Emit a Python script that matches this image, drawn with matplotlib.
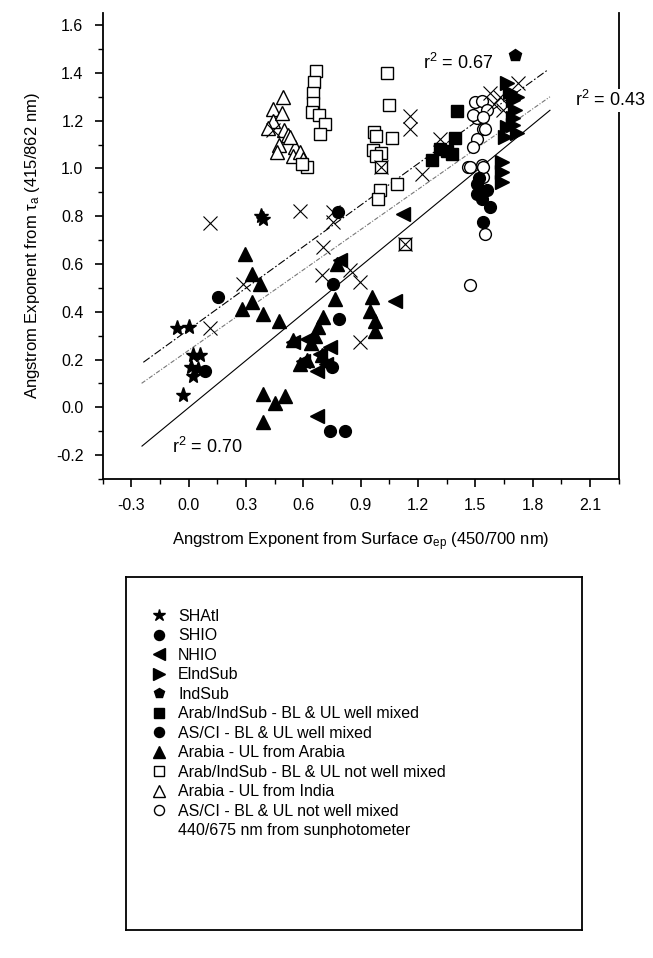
import matplotlib
matplotlib.use("Agg")
import matplotlib.pyplot as plt
from matplotlib.lines import Line2D
import numpy as np

plt.rcParams['font.family'] = ['Liberation Sans', 'DejaVu Sans']
plt.rcParams['mathtext.fontset'] = 'custom'
plt.rcParams['mathtext.rm'] = 'Liberation Sans'
plt.rcParams['mathtext.it'] = 'Liberation Sans:italic'

# ---------------- data ----------------
shatl_x = [-0.06, 0.0, 0.02, 0.06, 0.01, 0.02, 0.05, -0.03, 0.39, 0.38]
shatl_y = [0.33, 0.335, 0.22, 0.22, 0.17, 0.13, 0.16, 0.05, 0.79, 0.80]

shio_x = [0.155, 0.085, 0.783, 0.757, 0.788, 0.748, 0.74, 0.818]
shio_y = [0.46, 0.153, 0.817, 0.517, 0.37, 0.167, -0.098, -0.098]

nhio_x = [1.123, 0.79, 1.08, 0.547, 0.617, 0.74, 0.687, 0.60, 0.67, 0.67, 0.72]
nhio_y = [0.81, 0.615, 0.447, 0.272, 0.286, 0.251, 0.224, 0.195, 0.153, -0.035, 0.18]

elnd_x = [1.664, 1.68, 1.70, 1.708, 1.70, 1.664, 1.655, 1.638, 1.638, 1.638, 1.72, 1.72, 1.70]
elnd_y = [1.356, 1.32, 1.286, 1.244, 1.209, 1.174, 1.132, 1.027, 0.985, 0.943, 1.30, 1.15, 1.18]

indsub_x = [1.708]
indsub_y = [1.474]

aiwm_x = [1.406, 1.394, 1.315, 1.376, 1.272, 1.35]
aiwm_y = [1.239, 1.128, 1.083, 1.062, 1.034, 1.073]

ascwm_x = [1.507, 1.507, 1.533, 1.577, 1.542, 1.56, 1.52]
ascwm_y = [0.936, 0.894, 0.873, 0.838, 0.775, 0.91, 0.96]

arab_x = [0.294, 0.33, 0.373, 0.277, 0.33, 0.39, 0.47, 0.544, 0.58, 0.39, 0.504, 0.45, 0.39,
          0.774, 0.765, 0.958, 0.948, 0.974, 0.974, 0.704, 0.678, 0.64, 0.62, 0.66, 0.70]
arab_y = [0.643, 0.56, 0.517, 0.41, 0.44, 0.39, 0.36, 0.28, 0.18, 0.056, 0.049, 0.02, -0.063,
          0.60, 0.454, 0.461, 0.405, 0.363, 0.32, 0.377, 0.335, 0.27, 0.20, 0.30, 0.22]

ainwm_x = [0.666, 0.655, 0.649, 0.652, 0.643, 0.683, 0.713, 0.687, 0.617, 0.595,
           1.04, 1.05, 0.97, 0.98, 1.066, 0.963, 1.006, 0.98, 1.006, 1.088, 1.0, 0.993, 1.132]
ainwm_y = [1.408, 1.362, 1.316, 1.272, 1.236, 1.223, 1.184, 1.143, 1.006, 1.02,
           1.40, 1.265, 1.153, 1.135, 1.129, 1.076, 1.066, 1.05, 1.006, 0.936, 0.911, 0.873, 0.682]

india_x = [0.495, 0.44, 0.44, 0.416, 0.50, 0.52, 0.47, 0.556, 0.46, 0.547, 0.58, 0.60, 0.53, 0.49]
india_y = [1.30, 1.25, 1.20, 1.17, 1.16, 1.14, 1.10, 1.09, 1.07, 1.05, 1.07, 1.04, 1.13, 1.23]

ascnwm_x = [1.498, 1.533, 1.56, 1.507, 1.542, 1.507, 1.49, 1.463, 1.533, 1.542, 1.49, 1.54,
            1.55, 1.47, 1.54, 1.55, 1.472]
ascnwm_y = [1.278, 1.283, 1.244, 1.213, 1.167, 1.125, 1.09, 1.006, 1.013, 0.964, 1.223, 1.215,
            1.167, 1.006, 1.006, 0.727, 0.513]

sun_x = [0.11, 0.58, 0.757, 0.757, 0.704, 0.696, 0.844, 0.896, 0.896, 0.11, 0.285, 1.158, 1.158,
         1.315, 1.22, 1.006, 1.132, 1.577, 1.63, 1.647, 1.725, 0.44, 1.60]
sun_y = [0.77, 0.82, 0.817, 0.775, 0.67, 0.552, 0.573, 0.524, 0.272, 0.33, 0.517, 1.218, 1.167,
         1.125, 0.978, 1.006, 0.682, 1.314, 1.30, 1.244, 1.356, 1.16, 1.27]

# regression lines: slope, intercept, x range
fit_upper = (0.578, 0.326, -0.238, 1.882)   # r2 = 0.67
fit_mid = (0.561, 0.239, -0.247, 1.891)     # r2 = 0.43
fit_low = (0.658, -0.001, -0.245, 1.891)    # r2 = 0.70

labels = ["SHAtl", "SHIO", "NHIO", "ElndSub", "IndSub",
          "Arab/IndSub - BL & UL well mixed", "AS/CI - BL & UL well mixed",
          "Arabia - UL from Arabia", "Arab/IndSub - BL & UL not well mixed",
          "Arabia - UL from India", "AS/CI - BL & UL not well mixed",
          "440/675 nm from sunphotometer"]

# ---------------- figure ----------------
fig = plt.figure(figsize=(6.53, 9.58), dpi=100)
ax = fig.add_axes([0.1575, 0.5, 0.7897, 0.4863])

ms = 8.5
def pts(x, y, marker, filled=True, size=ms, z=3):
    fc = 'black' if filled else 'white'
    h, = ax.plot(x, y, linestyle='none', marker=marker, markersize=size,
                 markerfacecolor=fc, markeredgecolor='black', markeredgewidth=1.0, zorder=z)
    return h

# regression lines
for (m, b, x0, x1), ls, col in [(fit_upper, (0, (7, 2, 1.5, 2)), 'black'),
                                (fit_mid, (0, (4, 1.5, 1, 1.5)), '#777777'),
                                (fit_low, '-', 'black')]:
    xx = np.array([x0, x1])
    ax.plot(xx, m * xx + b, linestyle=ls, color=col, linewidth=0.8, zorder=2)

h_india = pts(india_x, india_y, '^', filled=False, size=9.5)
h_ainwm = pts(ainwm_x, ainwm_y, 's', filled=False)
h_ascnwm = pts(ascnwm_x, ascnwm_y, 'o', filled=False)
h_arab = pts(arab_x, arab_y, '^', size=9.5)
h_nhio = pts(nhio_x, nhio_y, '<', size=9.5)
h_elnd = pts(elnd_x, elnd_y, '>', size=9.5)
h_indsub = pts(indsub_x, indsub_y, 'p', size=9)
h_aiwm = pts(aiwm_x, aiwm_y, 's')
h_ascwm = pts(ascwm_x, ascwm_y, 'o')
h_shio = pts(shio_x, shio_y, 'o')
h_shatl = pts(shatl_x, shatl_y, '*', size=11)
ax.plot(sun_x, sun_y, linestyle='none', marker='x', markersize=10, color='black',
        markeredgewidth=0.8, zorder=4)

ax.set_xlim(-0.45, 2.25)
ax.set_ylim(-0.3, 1.65)
ax.set_xticks(np.arange(-0.3, 2.11, 0.3))
ax.set_xticks(np.arange(-0.45, 2.26, 0.15), minor=True)
ax.set_yticks(np.arange(-0.2, 1.61, 0.2))
ax.set_yticks(np.arange(-0.3, 1.65, 0.1), minor=True)
ax.set_xticklabels([f"{v:.1f}" for v in np.arange(-0.3, 2.11, 0.3)])
ax.set_yticklabels([f"{v:.1f}" for v in np.arange(-0.2, 1.61, 0.2)])
ax.tick_params(which='major', direction='out', length=6, width=1.2, labelsize=11.5, pad=8)
ax.tick_params(which='minor', direction='out', length=3.5, width=1.0)
ax.tick_params(top=False, right=False)
for s in ax.spines.values():
    s.set_linewidth(1.3)
ax.spines['top'].set_visible(False)

ax.set_xlabel("Angstrom Exponent from Surface σ$_{\\mathrm{ep}}$ (450/700 nm)", fontsize=12, labelpad=12)
ax.set_ylabel("Angstrom Exponent from τ$_{\\mathrm{a}}$ (415/862 nm)", fontsize=12, labelpad=10)

ax.text(1.228, 1.44, "r$^2$ = 0.67", fontsize=13, va='center', ha='left', zorder=6)
ax.text(2.02, 1.285, "r$^2$ = 0.43", fontsize=13, va='center', ha='left', zorder=6,
        clip_on=False, bbox=dict(facecolor='white', edgecolor='none', pad=1))
ax.text(-0.088, -0.166, "r$^2$ = 0.70", fontsize=13, va='center', ha='left', zorder=6)

# legend box
lax = fig.add_axes([126 / 653, (958 - 930) / 958, (582 - 126) / 653, (930 - 577) / 958])
lax.set_xticks([])
lax.set_yticks([])
for s in lax.spines.values():
    s.set_linewidth(1.3)
blank = Line2D([], [], linestyle='none', marker=None)
handles = [h_shatl, h_shio, h_nhio, h_elnd, h_indsub, h_aiwm, h_ascwm, h_arab,
           h_ainwm, h_india, h_ascnwm, blank]
leg = lax.legend(handles, labels, loc='upper left', bbox_to_anchor=(0.02, 0.95),
                 frameon=False, fontsize=11.5, labelspacing=0.28, handletextpad=0.6,
                 handlelength=1.2, markerscale=0.85)

fig.savefig("out.png", dpi=100)
